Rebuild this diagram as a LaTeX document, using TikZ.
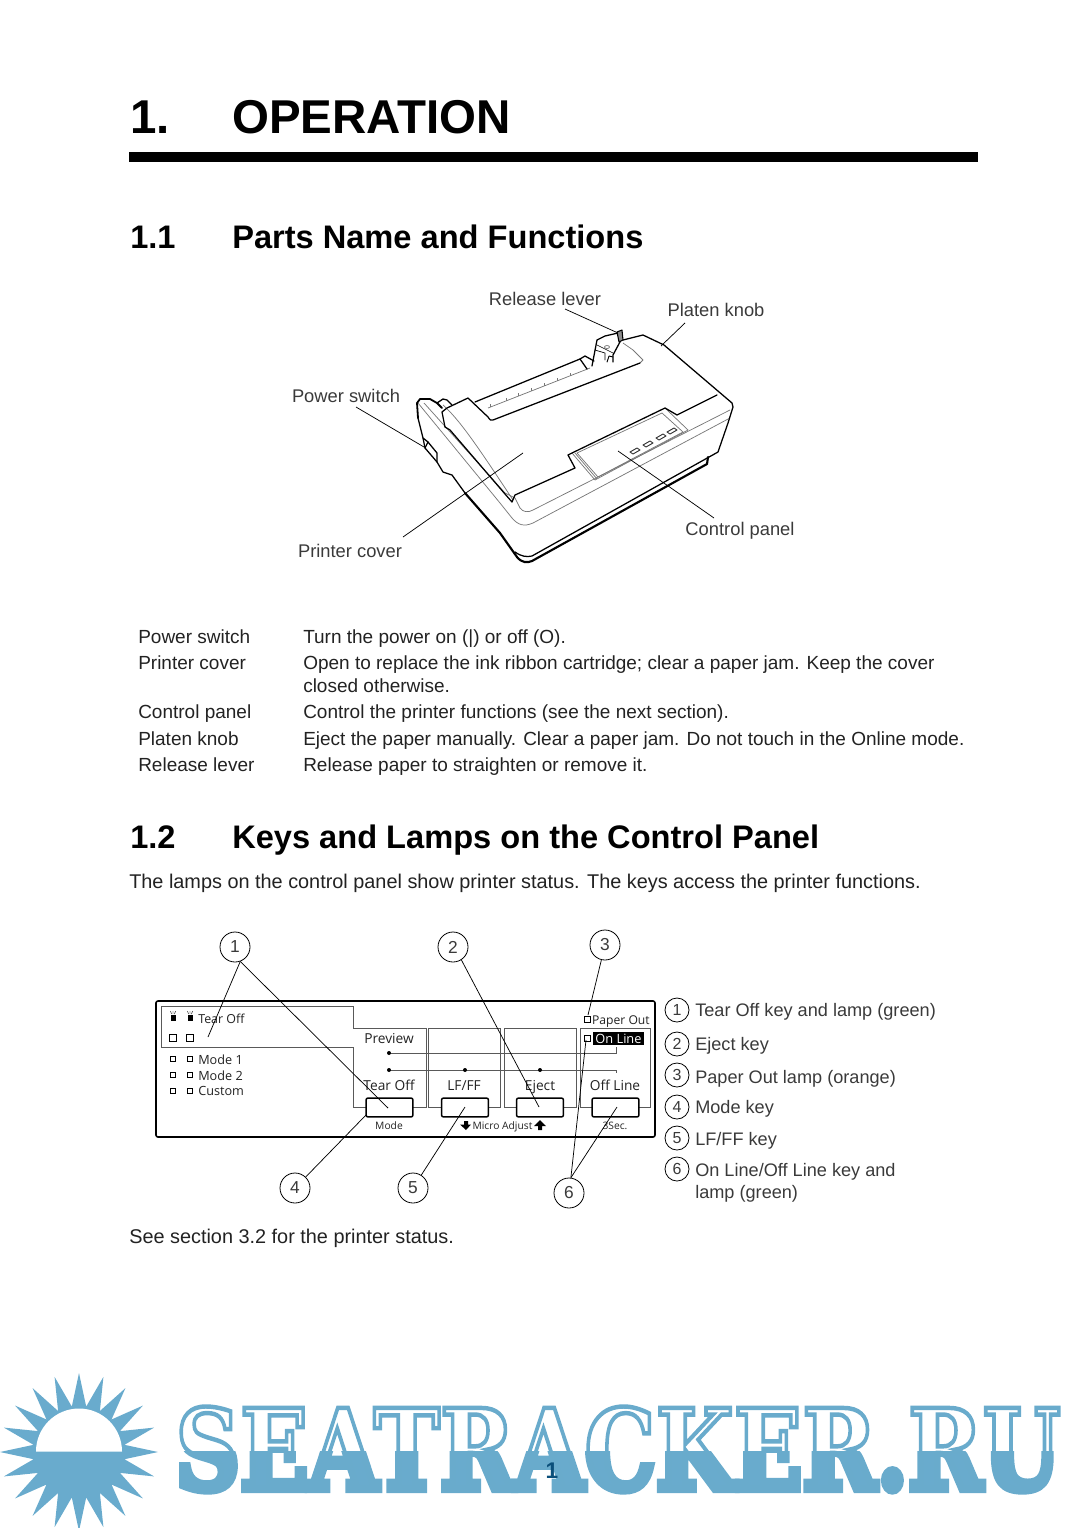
\documentclass[tikz,border=0pt]{standalone}
\usepackage{fontspec}
\setmainfont{Liberation Sans}
\newfontfamily\panelfont{Open Sans}
\newfontfamily\wmfont{DejaVu Serif}[BoldFont={DejaVu Serif Bold}]
\definecolor{wm}{HTML}{69ABCD}
\definecolor{txt}{HTML}{222222}
\definecolor{lab}{HTML}{3A3A3A}
\definecolor{gr}{HTML}{777777}
\definecolor{pgc}{HTML}{0B4F7A}
\newcommand{\fs}[1]{\fontsize{#1}{#1}\selectfont}
\newcommand{\wmtext}[1]{\resizebox{664pt}{62pt}{\special{pdf:literal direct 2 Tr 0.41 0.67 0.80 RG #1 w}\wmfont\bfseries SEATRACKER.RU\special{pdf:literal direct 0 Tr}}}
\tikzset{
 txtn/.style={inner sep=0pt,anchor=base west,text=txt},
 h1/.style={txtn,font=\bfseries\fs{35.6},text=black},
 h2/.style={txtn,font=\bfseries\fs{24.45},text=black},
 body/.style={txtn,font=\fs{14.25}},
 para/.style={txtn,font=\fs{14.9}},
 lbl/.style={inner sep=0pt,anchor=center,text=lab,font=\fs{13.75}},
 leader/.style={draw=black,line width=0.55pt},
 heavy/.style={draw=black,line width=1.35pt,line join=round,line cap=round},
 mid/.style={draw=black,line width=0.95pt,line join=round,line cap=round},
 thin1/.style={draw=gr,line width=0.55pt,line join=round},
 ptxt/.style={inner sep=0pt,text=txt,font=\panelfont\fs{10.3}},
 psm/.style={inner sep=0pt,text=txt,font=\panelfont\fs{7.7}},
 keyb/.style={draw=black,line width=1.1pt,rounded corners=1.5pt,fill=white},
 frameg/.style={draw=black!65,line width=0.75pt},
 lampb/.style={draw=black,line width=0.7pt,fill=white,inner sep=0pt,minimum size=5pt},
 lampa/.style={draw=black,line width=0.7pt,fill=white,inner sep=0pt,minimum size=3.6pt},
 dotn/.style={circle,fill=black,inner sep=0pt,minimum size=3pt},
 numc/.style={circle,draw=black,line width=0.6pt,fill=white,inner sep=0pt,minimum size=22.5pt,text=lab,font=\fs{13}},
 numl/.style={numc,minimum size=18pt,font=\fs{12}},
 legt/.style={txtn,font=\fs{13.6},text=lab},
}
\begin{document}
\begin{tikzpicture}[x=0.75pt,y=-0.75pt]
\useasboundingbox (0,0) rectangle (1080,1528);
% headings
\node[h1] (t1) at (130,133) {1.};
\node[h1] (t1b) at (232,133) {OPERATION};
\fill[black] (129,152) rectangle (978,162);
\node[h2] (t2) at (130,248) {1.1};
\node[h2] (t2b) at (232,248) {Parts Name and Functions};
% printer: grey lines
\draw[thin1] (418,403) -- (500,503) -- (512,518) .. controls (518,525) and (524,527) .. (533,523) -- (730,418);
\draw[thin1] (424,403) -- (505,493) -- (515,498) -- (520,508) .. controls (523,512) and (528,513) .. (533,510) -- (730,410);
\draw[thin1] (443,405) .. controls (460,420) and (480,450) .. (513,500);
\draw[thin1] (623,343) -- (633,350) -- (643,360) -- (640,363);
\draw[thin1] (577,453) -- (598,477) -- (683,432) -- (662,413) -- cycle;
\draw[thin1] (572,453) -- (595,480) -- (688,430) -- (665,408);
\draw[thin1] (575,453) -- (597,479);
\draw[thin1] (488,408) -- (590,368);
\foreach \a/\b in {490/407,506/401,518/396,531/391,544/386,557/381,570/376}
  \draw[thin1] (\a,\b) -- (\a,\b-3);
\foreach \a/\b in {635/451,648/444,661/437,672/431}
  \draw[black!80,line width=0.7pt,fill=white,line join=round] (\a-5,\b+1) -- (\a+2,\b-3) -- (\a+5,\b-1) -- (\a-2,\b+3) -- cycle;
% printer: left end and outer body
\draw[heavy] (418,418) -- (417,403) -- (420,399) -- (430,399) -- (437,403) -- (442,408);
\draw[mid] (437,403) -- (443,399) -- (447,400) -- (452,405);
\draw[mid] (418,418) -- (423,438) -- (425,448) -- (437,462) -- (443,472) -- (452,475) -- (465,493);
\draw[mid] (423,438) -- (428,442) -- (437,453) -- (437,462);
\draw[mid] (428,442) -- (425,448);
\draw[heavy,line width=1.6pt] (465,493) -- (500,533) -- (517,557) .. controls (522,563) and (527,563) .. (532,561) -- (707,464) -- (708,457);
\draw[mid] (515,552) .. controls (522,557) and (527,557) .. (532,556) -- (718,452) -- (728,423) -- (733,407) -- (732,403) -- (664,345) -- (643,335) -- (623,340);
% printer: cover
\draw[mid] (445,427) -- (442,412) -- (447,408) -- (468,398) -- (488,417) .. controls (490,420) and (491,421) .. (493,420) -- (640,363);
\draw[mid] (475,402) -- (580,359);
\draw[mid] (445,427) -- (450,430) -- (505,494) -- (512,502) -- (515,495) -- (575,468) -- (568,455) -- (572,453) -- (665,408) -- (677,415) -- (717,395);
% printer: lever
\draw[mid] (580,359) -- (585,356) -- (594,361);
\draw[mid] (580,359) -- (587,369);
\draw[mid] (592,366) -- (597,340) -- (605,336) -- (618,333);
\draw[mid] (621,340) -- (613,355) -- (613,362);
\draw[mid,line width=0.7pt] (607,362) -- (609,356) -- (613,357);
\draw[mid,line width=0.5pt] (597,345) -- (613,353);
\draw[mid,line width=0.5pt] (595,350) -- (605,353) -- (605,360);
\draw[thin1] (607,347) ellipse[x radius=2.5,y radius=1.5];
\draw[black,line width=0.8pt,fill=black!45,line join=round] (617,332) -- (622,330) -- (623,340) -- (619,342) -- cycle;
% printer labels
\node[lbl] (lRelease) at (545,299) {Release lever};
\node[lbl] (lPlaten) at (716,310) {Platen knob};
\node[lbl] (lPower) at (346,396) {Power switch};
\node[lbl] (lCover) at (350,551) {Printer cover};
\node[lbl] (lPanel) at (740,531) {Control panel};
\coordinate (a1) at (565,309); \coordinate (a2) at (618,333);
\coordinate (b1) at (685,323); \coordinate (b2) at (661,346);
\coordinate (c1) at (356,407); \coordinate (c2) at (424,447);
\coordinate (d1) at (403,537); \coordinate (d2) at (523,453);
\coordinate (e1) at (714,518); \coordinate (e2) at (618,451);
\draw[leader] (a1) -- (a2);
\draw[leader] (b1) -- (b2);
\draw[leader] (c1) -- (c2);
\draw[leader] (d1) -- (d2);
\draw[leader] (e1) -- (e2);
% table
\node[body] (r1a) at (138,643) {Power switch};
\node[body] (r1b) at (303,643) {Turn the power on (|) or off (O).};
\node[body] (r2a) at (138,669) {Printer cover};
\node[body] (r2b) at (303,669) {Open to replace the ink ribbon cartridge; clear a paper jam. Keep the cover};
\node[body] (r2c) at (303,692) {closed otherwise.};
\node[body] (r3a) at (138,718) {Control panel};
\node[body] (r3b) at (303,718) {Control the printer functions (see the next section).};
\node[body] (r4a) at (138,745) {Platen knob};
\node[body] (r4b) at (303,745) {Eject the paper manually. Clear a paper jam. Do not touch in the Online mode.};
\node[body] (r5a) at (138,771) {Release lever};
\node[body] (r5b) at (303,771) {Release paper to straighten or remove it.};
\node[h2] (s2) at (130,848) {1.2};
\node[h2] (s2b) at (232,848) {Keys and Lamps on the Control Panel};
\node[para] (intro) at (129,888) {The lamps on the control panel show printer status. The keys access the printer functions.};
% control panel
\draw[black,line width=1.2pt,rounded corners=1.5pt] (156,1001) rectangle (655,1137);
\draw[frameg] (353,1028) -- (353,1006) -- (161,1006) -- (161,1047) -- (353,1047) -- (353,1107) -- (366,1107);
\draw[frameg] (353,1028) -- (426,1028) -- (426,1107) -- (413,1107);
\draw[frameg] (428,1028) rectangle (500,1107);
\draw[frameg] (504,1028) rectangle (576,1107);
\draw[frameg] (580,1028) rectangle (650,1107);
\draw[frameg] (389,1053) -- (616,1053) -- (616,1047);
\draw[frameg] (389,1070) -- (616,1070) -- (616,1073);
\node[dotn] (da) at (389,1053) {};
\node[dotn] (db) at (389,1070) {};
\node[dotn] (dc) at (465,1070) {};
\node[dotn] (dd) at (540,1070) {};
\node[keyb,minimum width=35.2pt,minimum height=14.2pt,inner sep=0pt] (k1) at (389.5,1107.5) {};
\node[keyb,minimum width=35.2pt,minimum height=14.2pt,inner sep=0pt] (k2) at (465,1107.5) {};
\node[keyb,minimum width=35.2pt,minimum height=14.2pt,inner sep=0pt] (k3) at (540,1107.5) {};
\node[keyb,minimum width=35.2pt,minimum height=14.2pt,inner sep=0pt] (k4) at (615.5,1107.5) {};
\foreach \a in {173,190}{
  \fill[black] (\a-2.5,1015) rectangle (\a+2.5,1021);
  \draw[black,line width=0.35pt] (\a-2.5,1011) -- (\a-1.5,1014) (\a,1011) -- (\a,1014) (\a+2.5,1011) -- (\a+1.5,1014);
}
\node[lampb] (b1a) at (173,1038) {};
\node[lampb] (b1b) at (190,1038) {};
\foreach \n/\a/\b in {m1/173/1059,m2/190/1059,m3/173/1075,m4/190/1075,m5/173/1091,m6/190/1091}
  \node[lampa] (\n) at (\a,\b) {};
\node[lampa,minimum size=4.5pt] (lp1) at (587,1019) {};
\node[lampa,minimum size=4.5pt] (lp2) at (587,1038) {};
\node[ptxt,anchor=base west,font=\panelfont\fs{9.3}] (pt1) at (198,1023) {Tear Off};
\node[ptxt,anchor=base west,font=\panelfont\fs{9.5}] (pt2) at (198,1064) {Mode 1};
\node[ptxt,anchor=base west,font=\panelfont\fs{9.5}] (pt3) at (198,1080) {Mode 2};
\node[ptxt,anchor=base west,font=\panelfont\fs{9.5}] (pt4) at (198,1095) {Custom};
\node[ptxt,anchor=base] (pt5) at (389,1043) {Preview};
\node[ptxt,anchor=base] (pt6) at (389,1090) {Tear Off};
\node[ptxt,anchor=base] (pt7) at (464,1090) {LF/FF};
\node[ptxt,anchor=base] (pt8) at (540,1090) {Eject};
\node[ptxt,anchor=base] (pt9) at (615,1090) {Off Line};
\node[ptxt,anchor=base east,font=\panelfont\fs{9.1}] (pt10) at (650,1024) {Paper Out};
\fill[black] (593,1032) rectangle (644,1045);
\node[ptxt,anchor=base,text=white,font=\panelfont\fs{9.6}] (pt11) at (618.5,1043) {On Line};
\node[psm,anchor=base] (pt12) at (389,1129) {Mode};
\node[psm,anchor=base] (pt13) at (615,1129) {3Sec.};
\node[psm,anchor=base] (pt14) at (502.5,1129) {Micro Adjust};
\fill[black] (464,1121) -- (468,1121) -- (468,1124.5) -- (471,1124.5) -- (466,1130) -- (460,1124.5) -- (464,1124.5) -- cycle;
\fill[black] (538,1130) -- (542,1130) -- (542,1126) -- (546,1126) -- (540,1120) -- (534,1126) -- (538,1126) -- cycle;
% numbered circles
\node[numc] (n1) at (235,947) {1};
\node[numc] (n2) at (453,947) {2};
\node[numc] (n3) at (605,945) {3};
\node[numc] (n4) at (295,1188) {4};
\node[numc] (n5) at (413,1188) {5};
\node[numc] (n6) at (569,1193) {6};
\coordinate (p1) at (208,1037); \coordinate (p2) at (388,1108);
\coordinate (p3) at (539,1107); \coordinate (p4) at (588,1015);
\coordinate (p5) at (366,1115); \coordinate (p6) at (465,1107);
\coordinate (p7) at (586,1040); \coordinate (p8) at (617,1107);
\draw[leader] (n1.-70) -- (p1);
\draw[leader] (n1.-70) -- (p2);
\draw[leader] (n2.-57) -- (p3);
\draw[leader] (n3) -- (p4);
\draw[leader] (n4) -- (p5);
\draw[leader] (n5) -- (p6);
\draw[leader] (n6.83) -- (p7);
\draw[leader] (n6.83) -- (p8);
% legend
\node[numl] (g1) at (677,1010) {1};
\node[numl] (g2) at (677,1044) {2};
\node[numl] (g3) at (677,1075) {3};
\node[numl] (g4) at (677,1107) {4};
\node[numl] (g5) at (677,1138) {5};
\node[numl] (g6) at (677,1169) {6};
\node[legt] (h1n) at (695,1016) {Tear Off key and lamp (green)};
\node[legt] (h2n) at (695,1050) {Eject key};
\node[legt] (h3n) at (695,1083) {Paper Out lamp (orange)};
\node[legt] (h4n) at (695,1113) {Mode key};
\node[legt] (h5n) at (695,1145) {LF/FF key};
\node[legt] (h6n) at (695,1176) {On Line/Off Line key and};
\node[legt] (h7n) at (695,1198) {lamp (green)};
\node[para] (see) at (129,1243) {See section 3.2 for the printer status.};
% watermark sun
\fill[wm] plot[samples at={0,1,...,39},variable=\i] ({79+(mod(\i,2)==0?79:46)*cos(90+9*\i)},{1452-(mod(\i,2)==0?79:46)*sin(90+9*\i)}) -- cycle;
\fill[white] (36,1451.5) arc[start angle=180,end angle=360,x radius=43,y radius=43] -- cycle;
% watermark text
\begin{scope}
 \clip (165,1380) rectangle (1080,1451.5);
 \node[inner sep=0pt,anchor=south west,text=white] (wmtop) at (175,1491) {\wmtext{0.4}};
\end{scope}
\begin{scope}
 \clip (165,1451.5) rectangle (1080,1528);
 \node[inner sep=0pt,anchor=south west,text=wm] (wmbot) at (175,1491) {\wmtext{0.7}};
\end{scope}
\node[inner sep=0pt,anchor=base,font=\bfseries\fs{17},text=pgc] (pg) at (552,1478) {1};
\end{tikzpicture}
\end{document}
